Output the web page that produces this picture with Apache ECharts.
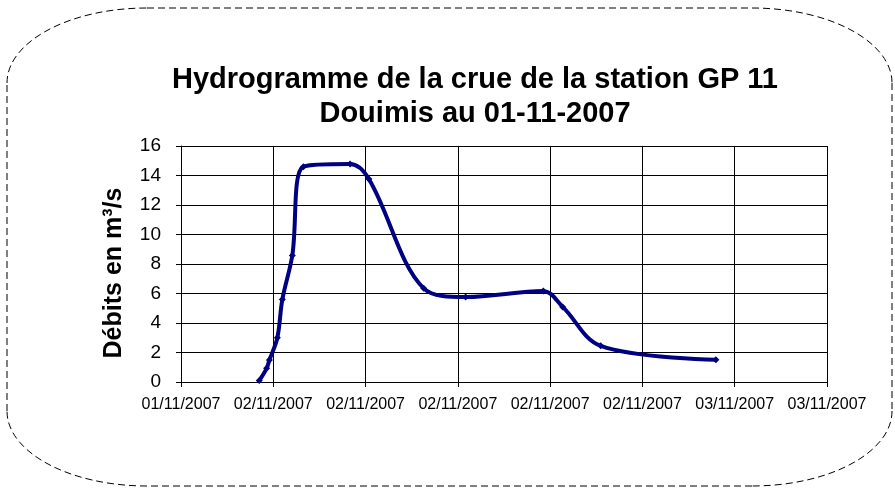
<!DOCTYPE html>
<html>
<head>
<meta charset="utf-8">
<script src="https://cdn.jsdelivr.net/npm/echarts@6/dist/echarts.min.js"></script>
<style>
  html, body { margin: 0; padding: 0; background: #fff; }
  #main { width: 895px; height: 488px; }
</style>
</head>
<body>
<div id="main"></div>
<script>
// hours since the first tick (01/11/2007), one grid step = 5 h
const hours = [4.24, 4.64, 4.79, 5.22, 5.49, 6.03, 6.63, 9.16, 10.18, 13.15, 15.42, 19.63, 20.68, 22.74, 28.98];
const debits = [0.1, 0.93, 1.49, 3.0, 5.59, 8.58, 14.6, 14.78, 13.76, 6.35, 5.76, 6.17, 5.09, 2.45, 1.51];
const xTickLabels = ['01/11/2007', '02/11/2007', '02/11/2007', '02/11/2007', '02/11/2007', '02/11/2007', '03/11/2007', '03/11/2007'];

const chart = echarts.init(document.getElementById('main'));

const axisFont = 'Arial, "Liberation Sans", sans-serif';

// dashed frame with elliptical corners (bezier quarter-ellipses)
function frame(l, t, r, b, rx, ry) {
  const k = 0.5523;
  const st = { stroke: '#000', lineWidth: 1, lineDash: [7, 4], fill: null };
  const line = (x1, y1, x2, y2) => ({ type: 'line', silent: true, shape: { x1, y1, x2, y2 }, style: st });
  const curve = (x1, y1, cpx1, cpy1, cpx2, cpy2, x2, y2) => ({
    type: 'bezierCurve', silent: true,
    shape: { x1, y1, cpx1, cpy1, cpx2, cpy2, x2, y2 }, style: st
  });
  return [
    line(l + rx, t, r - rx, t),
    curve(r - rx, t, r - rx + k * rx, t, r, t + ry - k * ry, r, t + ry),
    line(r, t + ry, r, b - ry),
    curve(r, b - ry, r, b - ry + k * ry, r - rx + k * rx, b, r - rx, b),
    line(r - rx, b, l + rx, b),
    curve(l + rx, b, l + rx - k * rx, b, l, b - ry + k * ry, l, b - ry),
    line(l, b - ry, l, t + ry),
    curve(l, t + ry, l, t + ry - k * ry, l + rx - k * rx, t, l + rx, t)
  ];
}

const yTitle = {
  type: 'text',
  silent: true,
  x: 114,
  y: 273,
  rotation: Math.PI / 2,
  style: {
    text: 'Débits en m³/s',
    font: 'bold 25px ' + axisFont,
    fill: '#000',
    align: 'center',
    verticalAlign: 'middle'
  }
};

const option = {
  backgroundColor: '#ffffff',
  animation: false,
  title: {
    text: 'Hydrogramme de la crue de la station GP 11\nDouimis au 01-11-2007',
    left: 470,
    top: 58,
    textAlign: 'center',
    textStyle: {
      fontFamily: axisFont,
      fontSize: 29,
      fontWeight: 'bold',
      color: '#000',
      lineHeight: 34
    }
  },
  graphic: frame(7, 8, 892, 486, 140, 75).concat([yTitle]),
  grid: {
    left: 181,
    right: 68,
    top: 146,
    bottom: 106
  },
  xAxis: {
    type: 'value',
    min: 0,
    max: 35,
    interval: 5,
    axisLine: { lineStyle: { color: '#000', width: 1 } },
    axisTick: { show: true, length: 5, lineStyle: { color: '#000' } },
    splitLine: { show: true, lineStyle: { color: '#000', width: 1 } },
    axisLabel: {
      margin: 15,
      fontFamily: axisFont,
      fontSize: 16,
      color: '#000',
      showMaxLabel: true,
      formatter: function (v) {
        return xTickLabels[Math.round(v / 5)];
      }
    }
  },
  yAxis: {
    type: 'value',
    min: 0,
    max: 16,
    interval: 2,
    axisLine: { show: true, lineStyle: { color: '#000', width: 1 } },
    axisTick: { show: true, length: 5, lineStyle: { color: '#000' } },
    splitLine: { show: true, lineStyle: { color: '#000', width: 1 } },
    axisLabel: {
      margin: 20,
      fontFamily: axisFont,
      fontSize: 19,
      color: '#000'
    }
  },
  series: [{
    type: 'line',
    data: hours.map((h, i) => [h, debits[i]]),
    smooth: 0.35,
    symbol: 'diamond',
    symbolSize: 7,
    lineStyle: { color: '#000080', width: 4 },
    itemStyle: { color: '#000080' }
  }]
};

chart.setOption(option);
</script>
</body>
</html>
